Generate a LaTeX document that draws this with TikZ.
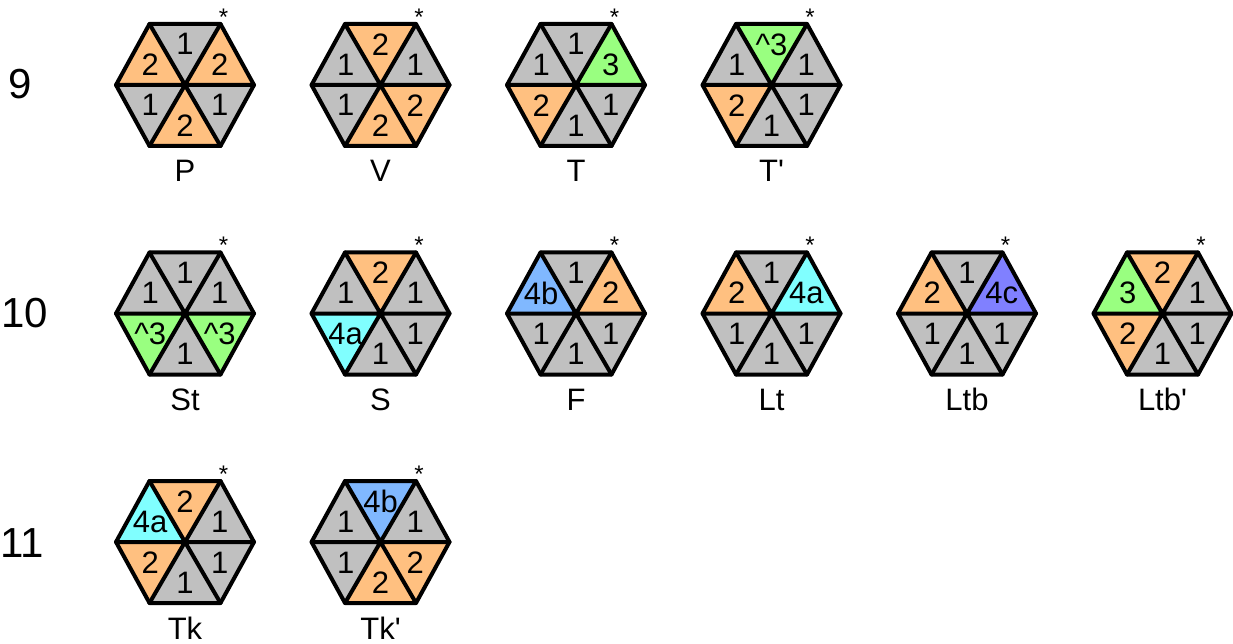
\documentclass[tikz,border=0pt]{standalone}
\usepackage{fontspec}
\setmainfont{Liberation Sans}
\definecolor{og}{HTML}{FFC080}
\definecolor{gy}{HTML}{C0C0C0}
\definecolor{gn}{HTML}{99FF80}
\definecolor{cy}{HTML}{80FFFF}
\definecolor{bl}{HTML}{80B8FF}
\definecolor{pu}{HTML}{8080FF}
\tikzset{
  lbl/.style={inner sep=0pt, font=\fontsize{31}{31}\selectfont},
  name label/.style={inner sep=0pt, font=\fontsize{31}{31}\selectfont},
  row label/.style={inner sep=0pt, font=\fontsize{42}{42}\selectfont},
  star/.style={inner sep=0pt, font=\fontsize{24}{24}\selectfont},
  edge/.style={line width=4pt, line join=round, line cap=round}
}
\newcommand\hexa[4]{%
  \begin{scope}[shift={#2}]
    \coordinate (#1) at (0,0);
    \coordinate (#1-v0) at (-35.5,-61);
    \coordinate (#1-v1) at (35.5,-61);
    \coordinate (#1-v2) at (69,0);
    \coordinate (#1-v3) at (35.5,61);
    \coordinate (#1-v4) at (-35.5,61);
    \coordinate (#1-v5) at (-69,0);
    \foreach \c/\l [count=\i from 0] in {#3} {
      \pgfmathtruncatemacro\j{mod(\i+1,6)}
      \fill[\c] (#1) -- (#1-v\i) -- (#1-v\j) -- cycle;
      \node[lbl] (#1-t\i) at (barycentric cs:#1=1,#1-v\i=1,#1-v\j=1) {\l};
    }
    \draw[edge] (#1-v0) -- (#1-v1) -- (#1-v2) -- (#1-v3) -- (#1-v4) -- (#1-v5) -- cycle;
    \draw[edge] (#1-v0) -- (#1-v3) (#1-v1) -- (#1-v4) (#1-v2) -- (#1-v5);
    \node[star] (#1-star) at (38.5,-68) {*};
    \node[name label] (#1-name) at (0,86) {#4};
  \end{scope}}
\newcommand\crt{\textasciicircum 3}
\newcommand\pr{\textquotesingle}
\begin{document}
\begin{tikzpicture}[x=1pt,y=-1pt]
\useasboundingbox (0,0) rectangle (1233,644);
\node[row label] (r9) at (20,84) {9};
\node[row label] (r10) at (25,313) {10};
\node[row label] (r11) at (22,543) {11};
% order: top, upper-right, lower-right, bottom, lower-left, upper-left
\hexa{P}{(185,85)}{gy/1,og/2,gy/1,og/2,gy/1,og/2}{P}
\hexa{V}{(380.5,85)}{og/2,gy/1,og/2,og/2,gy/1,gy/1}{V}
\hexa{T}{(576,85)}{gy/1,gn/3,gy/1,gy/1,og/2,gy/1}{T}
\hexa{Tp}{(771.5,85)}{gn/\crt,gy/1,gy/1,gy/1,og/2,gy/1}{T\pr}
\hexa{St}{(185,313.5)}{gy/1,gy/1,gn/\crt,gy/1,gn/\crt,gy/1}{St}
\hexa{S}{(380.5,313.5)}{og/2,gy/1,gy/1,gy/1,cy/4a,gy/1}{S}
\hexa{F}{(576,313.5)}{gy/1,og/2,gy/1,gy/1,gy/1,bl/4b}{F}
\hexa{Lt}{(771.5,313.5)}{gy/1,cy/4a,gy/1,gy/1,gy/1,og/2}{Lt}
\hexa{Ltb}{(967,313.5)}{gy/1,pu/4c,gy/1,gy/1,gy/1,og/2}{Ltb}
\hexa{Ltbp}{(1162.5,313.5)}{og/2,gy/1,gy/1,gy/1,og/2,gn/3}{Ltb\pr}
\hexa{Tk}{(185,542)}{og/2,gy/1,gy/1,gy/1,og/2,cy/4a}{Tk}
\hexa{Tkp}{(380.5,542)}{bl/4b,gy/1,og/2,og/2,gy/1,gy/1}{Tk\pr}
\end{tikzpicture}
\end{document}
